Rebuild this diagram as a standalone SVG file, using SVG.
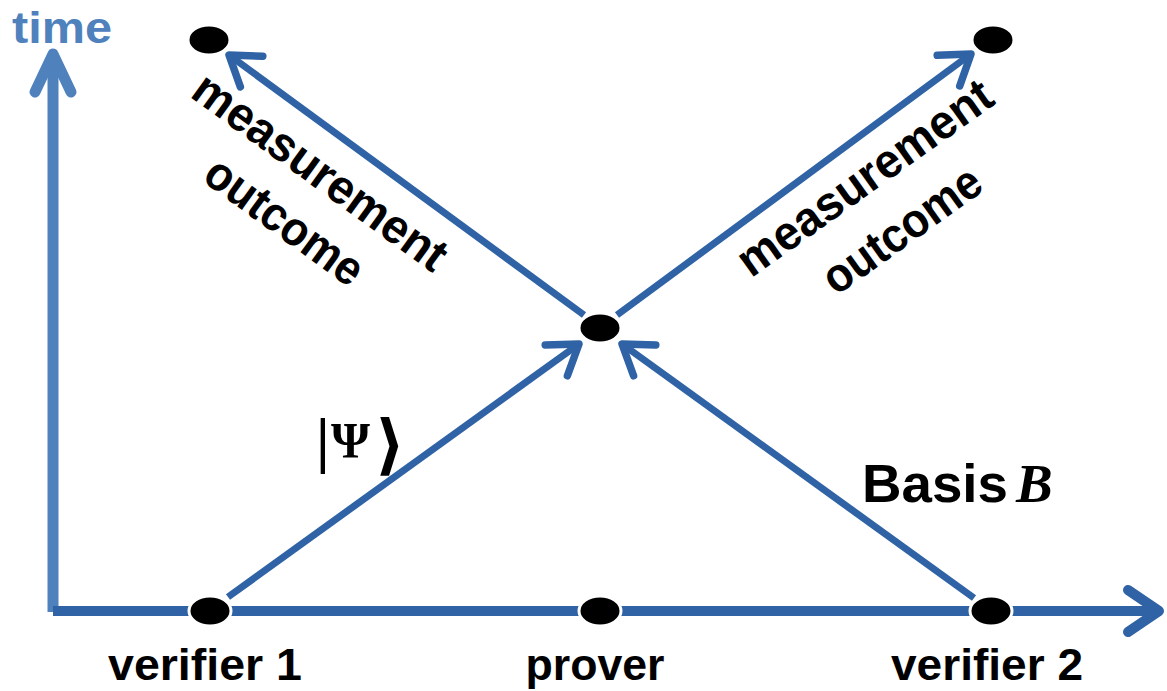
<svg xmlns="http://www.w3.org/2000/svg" width="1167" height="691" viewBox="0 0 1167 691">
  <style>
    .lbl { font-family: "Liberation Sans", Arial, sans-serif; font-weight: bold; fill: #000; }
    .node { fill: #000; stroke: #fff; stroke-width: 3; }
    .diag { stroke: #2F63A5; stroke-width: 7; fill: none; marker-end: url(#ahDiag); }
  </style>
  <defs>
    <marker id="ahDiag" markerUnits="userSpaceOnUse" orient="auto" refX="0" refY="0" markerWidth="10" markerHeight="10" overflow="visible">
      <path d="M -28 -19 L 0 0 L -28 19" fill="none" stroke="#2F63A5" stroke-width="7.5" stroke-linecap="round" stroke-linejoin="round"/>
    </marker>
    <marker id="ahAxis" markerUnits="userSpaceOnUse" orient="auto" refX="0" refY="0" markerWidth="10" markerHeight="10" overflow="visible">
      <path d="M -31 -21 L 0 0 L -31 21" fill="none" stroke="#2F63A5" stroke-width="10" stroke-linecap="round" stroke-linejoin="round"/>
    </marker>
    <marker id="ahTime" markerUnits="userSpaceOnUse" orient="auto" refX="0" refY="0" markerWidth="10" markerHeight="10" overflow="visible">
      <path d="M -38 -18 L 0 0 L -38 18" fill="none" stroke="#4F81BD" stroke-width="11" stroke-linecap="round" stroke-linejoin="round"/>
    </marker>
  </defs>

  <g id="connectors">
    <line id="time-axis" x1="53" y1="612" x2="53" y2="54" stroke="#4F81BD" stroke-width="11" marker-end="url(#ahTime)"/>
    <line id="space-axis" x1="53" y1="611" x2="1159" y2="611" stroke="#2F63A5" stroke-width="10" marker-end="url(#ahAxis)"/>
    <line class="diag" x1="228" y1="597" x2="579" y2="344"/>
    <line class="diag" x1="974" y1="598" x2="622" y2="344"/>
    <line class="diag" x1="584" y1="315" x2="229" y2="55"/>
    <line class="diag" x1="617" y1="315" x2="971" y2="54"/>
  </g>

  <g id="node-top-left"><ellipse class="node" cx="209" cy="40" rx="21" ry="15"/></g>
  <g id="node-top-right"><ellipse class="node" cx="993" cy="40" rx="21" ry="15"/></g>
  <g id="node-center"><ellipse class="node" cx="600" cy="328" rx="21" ry="15"/></g>
  <g id="node-verifier1">
    <ellipse class="node" cx="210" cy="611" rx="21" ry="15"/>
    <text class="lbl" x="205" y="680" font-size="45" text-anchor="middle" textLength="194" lengthAdjust="spacingAndGlyphs">verifier 1</text>
  </g>
  <g id="node-prover">
    <ellipse class="node" cx="600" cy="611" rx="21" ry="15"/>
    <text class="lbl" x="595" y="680" font-size="45" text-anchor="middle" textLength="139" lengthAdjust="spacingAndGlyphs">prover</text>
  </g>
  <g id="node-verifier2">
    <ellipse class="node" cx="991" cy="611" rx="21" ry="15"/>
    <text class="lbl" x="987" y="680" font-size="45" text-anchor="middle" textLength="192" lengthAdjust="spacingAndGlyphs">verifier 2</text>
  </g>

  <g id="labels">
    <text x="12" y="43" font-family="Liberation Sans, Arial, sans-serif" font-weight="bold" font-size="44" fill="#4F81BD" textLength="100" lengthAdjust="spacingAndGlyphs">time</text>
    <g transform="translate(318,175) rotate(36)">
      <text class="lbl" x="0" y="12" font-size="48" text-anchor="middle" textLength="302" lengthAdjust="spacingAndGlyphs">measurement</text>
      <text class="lbl" x="0" y="73" font-size="48" text-anchor="middle" textLength="184" lengthAdjust="spacingAndGlyphs">outcome</text>
    </g>
    <g transform="translate(867,181) rotate(-35.5)">
      <text class="lbl" x="0" y="12" font-size="48" text-anchor="middle" textLength="302" lengthAdjust="spacingAndGlyphs">measurement</text>
      <text class="lbl" x="0" y="76" font-size="48" text-anchor="middle" textLength="184" lengthAdjust="spacingAndGlyphs">outcome</text>
    </g>
    <text font-family="Liberation Serif, serif" font-weight="bold" fill="#000">
      <tspan x="316" y="461" font-size="62">|</tspan><tspan x="331" y="457" font-size="50">Ψ</tspan><tspan x="375" y="467" font-family="DejaVu Serif, serif" font-size="66" font-weight="bold">⟩</tspan>
    </text>
    <text x="862" y="502" class="lbl" font-size="53" textLength="146" lengthAdjust="spacingAndGlyphs">Basis</text>
    <text x="1016" y="502" font-family="Liberation Serif, serif" font-weight="bold" font-style="italic" font-size="55" fill="#000">B</text>
  </g>
</svg>
